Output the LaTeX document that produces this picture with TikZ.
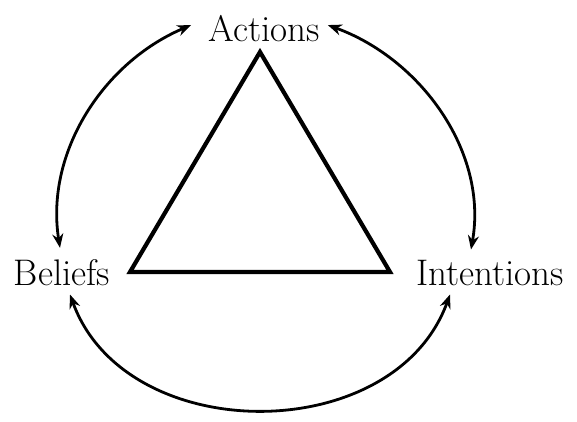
\documentclass[tikz,border=0pt]{standalone}
\usepackage{tikz}
\usetikzlibrary{arrows.meta}

\begin{document}
\begin{tikzpicture}[
      x=1pt, y=1pt,
      every node/.style={font=\fontsize{37}{44}\selectfont, inner sep=0pt},
      lbl/.style={anchor=base},
      link/.style={{Stealth[length=14pt, width=11pt]}-{Stealth[length=14pt, width=11pt]},
                   line width=2.8pt},
      tri/.style={line width=4.2pt, line join=miter},
    ]
    \useasboundingbox (0,0) rectangle (577,421);
    % The three corners of the cycle.
    \node[lbl] (actions) at (264,379) {Actions};
    \node[lbl] (beliefs) at (62,136) {Beliefs};
    \node[lbl] (intentions) at (490,136) {Intentions};
    % The triangle in the middle.
    \coordinate (apex) at (260,369);
    \coordinate (bl) at (130,149);
    \coordinate (br) at (390,149);
    \draw[tri] (apex) -- (br) -- (bl) -- cycle;
    % Arcs round the outside, arrows at both ends.
    \draw[link] ([xshift=-17pt, yshift=4pt]actions.west) to[out=203, in=99, looseness=0.95]
      ([xshift=-2pt, yshift=11pt]beliefs.north);
    \draw[link] ([xshift=8pt, yshift=4pt]actions.east) to[out=-20, in=80, looseness=0.95]
      ([xshift=-19pt, yshift=10pt]intentions.north);
    \draw[link] ([xshift=8pt, yshift=-9pt]beliefs.south) to[out=-70, in=-110, looseness=1.1]
      ([xshift=-40pt, yshift=-9pt]intentions.south);
  \end{tikzpicture}
\end{document}
